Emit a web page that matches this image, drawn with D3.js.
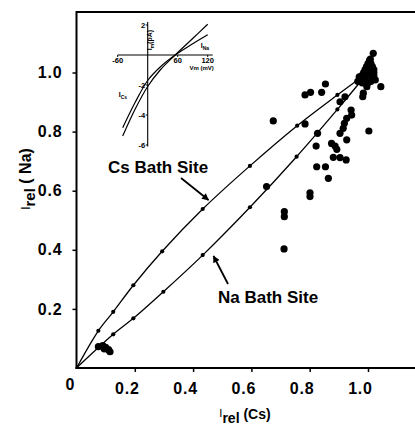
<!DOCTYPE html>
<html>
<head>
<meta charset="utf-8">
<script src="https://cdn.jsdelivr.net/npm/d3@7"></script>
<style>
  html, body { margin: 0; padding: 0; background: #fff; }
  svg { display: block; }
  text { font-family: "Liberation Sans", Arial, Helvetica, sans-serif; fill: #000; }
</style>
</head>
<body>
<svg id="chart" width="415" height="427"></svg>
<script>
// ---- data ----
const xTicks = [0.2, 0.4, 0.6, 0.8, 1.0];
const yTicks = [0.2, 0.4, 0.6, 0.8, 1.0];

// theoretical relations for the two binding-site models (endpoints included)
const csSiteX = [0, 0.075, 0.126, 0.195, 0.294, 0.433, 0.595, 0.757, 0.895, 1];
const csSiteY = [0, 0.126, 0.19, 0.28, 0.395, 0.538, 0.684, 0.82, 0.924, 1];
const naSiteX = [0, 0.126, 0.195, 0.298, 0.433, 0.595, 0.755, 0.895, 1];
const naSiteY = [0, 0.114, 0.168, 0.258, 0.382, 0.544, 0.715, 0.875, 1];

// measured relative currents
const obsCs = [0.075, 0.09, 0.1, 0.11, 0.115, 0.095,
  0.854, 0.784, 0.803, 0.841, 0.675, 0.784, 0.827, 0.822, 0.875, 0.887, 0.893,
  0.824, 0.854, 0.881, 0.904, 0.925, 0.864, 0.801, 0.801, 0.713, 0.713, 0.712,
  0.927, 0.904, 0.915, 0.919, 0.927, 0.944, 0.942, 0.904, 0.921, 0.982, 0.984,
  1.003, 0.996, 1.044, 1.018, 0.652,
  0.975, 0.98, 0.985, 0.99, 0.995, 1.0, 1.005, 1.01, 1.015, 1.02, 1.02, 1.015,
  1.01, 1.0, 0.99, 0.995, 1.005, 1.01, 1.0, 0.985, 1.02, 1.012, 1.008, 0.97,
  0.98, 1.025, 0.965];
const obsNa = [0.072, 0.076, 0.07, 0.062, 0.055, 0.065,
  0.961, 0.924, 0.933, 0.933, 0.836, 0.826, 0.794, 0.751, 0.760, 0.751, 0.740,
  0.681, 0.681, 0.713, 0.712, 0.704, 0.642, 0.593, 0.580, 0.529, 0.512, 0.403,
  0.772, 0.794, 0.811, 0.828, 0.845, 0.856, 0.873, 0.901, 0.918, 0.918, 0.930,
  0.802, 0.952, 0.952, 1.065, 0.614,
  0.975, 0.99, 1.0, 1.01, 1.02, 1.03, 1.04, 1.03, 1.02, 1.01, 0.99, 0.98,
  0.97, 0.965, 0.97, 0.99, 1.0, 1.01, 1.015, 0.98, 1.0, 0.99, 1.045, 0.985,
  0.965, 0.975, 0.97];

// inset: current-voltage relations
const insetVm = [-50, -25, 0, 25, 55, 90, 120];
const insetINa = [-4.85, -3.15, -1.7, -0.8, 0, 0.75, 1.35];
const insetICs = [-5.4, -3.6, -2.1, -1.0, 0, 1.1, 2.05];
const insetXTicks = [-60, 60, 120];
const insetYTicks = [2, -2, -4, -6];

// ---- layout ----
const svg = d3.select("#chart");
const x = d3.scaleLinear().domain([0, 1]).range([76.5, 368]);
const y = d3.scaleLinear().domain([0, 1]).range([368, 72.5]);

// frame: top rule, left and bottom axes
svg.append("line").attr("x1", 76).attr("x2", 415).attr("y1", 12).attr("y2", 12)
  .attr("stroke", "#000").attr("stroke-width", 2);

const gx = svg.append("g").attr("transform", "translate(0,368)")
  .call(d3.axisBottom(x).tickValues(xTicks).tickSize(4).tickPadding(11)
    .tickFormat(d3.format(".1f")));
gx.select(".domain").remove();
gx.selectAll("line").attr("stroke-width", 1.5);
gx.selectAll("text").attr("font-size", 16).attr("font-weight", "bold")
  .attr("dx", -8).attr("letter-spacing", 0.8).attr("font-family", "Liberation Sans, Arial, sans-serif");
svg.append("line").attr("x1", 75.5).attr("x2", 415).attr("y1", 368).attr("y2", 368)
  .attr("stroke", "#000").attr("stroke-width", 2);

const gy = svg.append("g").attr("transform", "translate(76.5,0)")
  .call(d3.axisLeft(y).tickValues(yTicks).tickSize(4).tickPadding(10)
    .tickFormat(d3.format(".1f")));
gy.select(".domain").remove();
gy.selectAll("line").attr("stroke-width", 1.5);
gy.selectAll("text").attr("font-size", 16).attr("font-weight", "bold")
  .attr("letter-spacing", 0.8).attr("font-family", "Liberation Sans, Arial, sans-serif");
svg.append("line").attr("x1", 76.5).attr("x2", 76.5).attr("y1", 11).attr("y2", 369)
  .attr("stroke", "#000").attr("stroke-width", 2);

svg.append("text").attr("x", 70).attr("y", 390).attr("text-anchor", "middle")
  .attr("font-size", 16).attr("font-weight", "bold").text("0");

// axis titles
const xt = svg.append("text").attr("x", 245).attr("y", 417).attr("text-anchor", "middle");
xt.append("tspan").attr("font-size", 11).text("I");
xt.append("tspan").attr("font-size", 14).attr("font-weight", "bold").attr("dy", 6).text("rel");
xt.append("tspan").attr("font-size", 14).attr("font-weight", "bold").attr("dy", -4).text(" (Cs)");

const yt = svg.append("text").attr("transform", "translate(30,179) rotate(-90)")
  .attr("text-anchor", "middle");
yt.append("tspan").attr("font-size", 12).text("I");
yt.append("tspan").attr("font-size", 15).attr("font-weight", "bold").attr("dy", 5).text("rel");
yt.append("tspan").attr("font-size", 16).attr("font-weight", "bold").attr("dy", -4).text(" ( Na)");

// ---- model curves ----
const line = d3.line().x(d => x(d[0])).y(d => y(d[1])).curve(d3.curveCatmullRom);
const curves = [
  d3.zip(csSiteX, csSiteY),
  d3.zip(naSiteX, naSiteY)
];
curves.forEach(pts => {
  svg.append("path").datum(pts).attr("d", line)
    .attr("fill", "none").attr("stroke", "#000").attr("stroke-width", 1.3);
  svg.append("g").selectAll("circle").data(pts.slice(1, -1)).join("circle")
    .attr("cx", d => x(d[0])).attr("cy", d => y(d[1])).attr("r", 2.1).attr("fill", "#000");
});

// ---- observations ----
svg.append("g").selectAll("circle").data(d3.zip(obsCs, obsNa)).join("circle")
  .attr("cx", d => x(d[0])).attr("cy", d => y(d[1])).attr("r", 3.6).attr("fill", "#000");

// ---- annotations ----
svg.append("defs").append("marker").attr("id", "head")
  .attr("viewBox", "0 0 10 10").attr("refX", 9).attr("refY", 5)
  .attr("markerWidth", 9).attr("markerHeight", 7).attr("markerUnits", "userSpaceOnUse")
  .attr("orient", "auto")
  .append("path").attr("d", "M0,0 L10,5 L0,10 z").attr("fill", "#000");

svg.append("text").attr("x", 108).attr("y", 173).attr("font-size", 17)
  .attr("font-weight", "bold").text("Cs Bath Site");
svg.append("line").attr("x1", 181).attr("y1", 178).attr("x2", 208.5).attr("y2", 200)
  .attr("stroke", "#000").attr("stroke-width", 1.8).attr("marker-end", "url(#head)");

svg.append("text").attr("x", 218).attr("y", 303).attr("font-size", 17)
  .attr("font-weight", "bold").text("Na Bath Site");
svg.append("line").attr("x1", 228).attr("y1", 284).attr("x2", 213.5).attr("y2", 256)
  .attr("stroke", "#000").attr("stroke-width", 1.8).attr("marker-end", "url(#head)");

// ---- inset I-V plot ----
const ix = d3.scaleLinear().domain([0, 60]).range([147.7, 177.7]);
const iy = d3.scaleLinear().domain([0, -2]).range([55, 85]);
const inset = svg.append("g");
inset.append("line").attr("x1", ix(-60)).attr("x2", ix(130)).attr("y1", iy(0)).attr("y2", iy(0))
  .attr("stroke", "#000").attr("stroke-width", 1.1);
inset.append("line").attr("x1", ix(0)).attr("x2", ix(0)).attr("y1", iy(2.2)).attr("y2", iy(-6.1))
  .attr("stroke", "#000").attr("stroke-width", 1.1);
inset.selectAll(".xt").data(insetXTicks).join("line")
  .attr("x1", d => ix(d)).attr("x2", d => ix(d)).attr("y1", iy(0)).attr("y2", iy(0) + 2)
  .attr("stroke", "#000");
inset.selectAll(".xl").data(insetXTicks).join("text")
  .attr("x", d => ix(d)).attr("y", iy(0) + 8).attr("text-anchor", "middle")
  .attr("font-size", 7.5).attr("font-weight", "bold").text(d => d);
inset.selectAll(".yt").data(insetYTicks).join("line")
  .attr("x1", ix(0) - 2).attr("x2", ix(0)).attr("y1", d => iy(d)).attr("y2", d => iy(d))
  .attr("stroke", "#000");
inset.selectAll(".yl").data(insetYTicks).join("text")
  .attr("x", ix(0) - 2.5).attr("y", d => iy(d) + 2.5).attr("text-anchor", "end")
  .attr("font-size", 7.5).attr("font-weight", "bold").text(d => d);
inset.append("text").attr("x", ix(108)).attr("y", iy(0) + 15).attr("text-anchor", "middle")
  .attr("font-size", 6).attr("font-weight", "bold").text("Vm (mV)");

const ilabel = inset.append("text").attr("transform", `translate(${ix(8)},${iy(1)}) rotate(-90)`)
  .attr("text-anchor", "middle").attr("font-size", 7).attr("font-weight", "bold");
ilabel.append("tspan").text("I");
ilabel.append("tspan").attr("font-size", 5).attr("dy", 2).text("m");
ilabel.append("tspan").attr("dy", -2).text("(pA)");

const iline = d3.line().x(d => ix(d[0])).y(d => iy(d[1])).curve(d3.curveCatmullRom);
[insetINa, insetICs].forEach(vals => {
  inset.append("path").datum(d3.zip(insetVm, vals)).attr("d", iline)
    .attr("fill", "none").attr("stroke", "#000").attr("stroke-width", 1.2);
});
const lna = inset.append("text").attr("x", ix(106)).attr("y", iy(0.45))
  .attr("font-size", 7).attr("font-weight", "bold");
lna.append("tspan").text("I");
lna.append("tspan").attr("font-size", 5).attr("dy", 2).text("Na");
const lcs = inset.append("text").attr("x", ix(-58)).attr("y", iy(-2.8))
  .attr("font-size", 7).attr("font-weight", "bold");
lcs.append("tspan").text("I");
lcs.append("tspan").attr("font-size", 5).attr("dy", 2).text("Cs");
</script>
</body>
</html>
